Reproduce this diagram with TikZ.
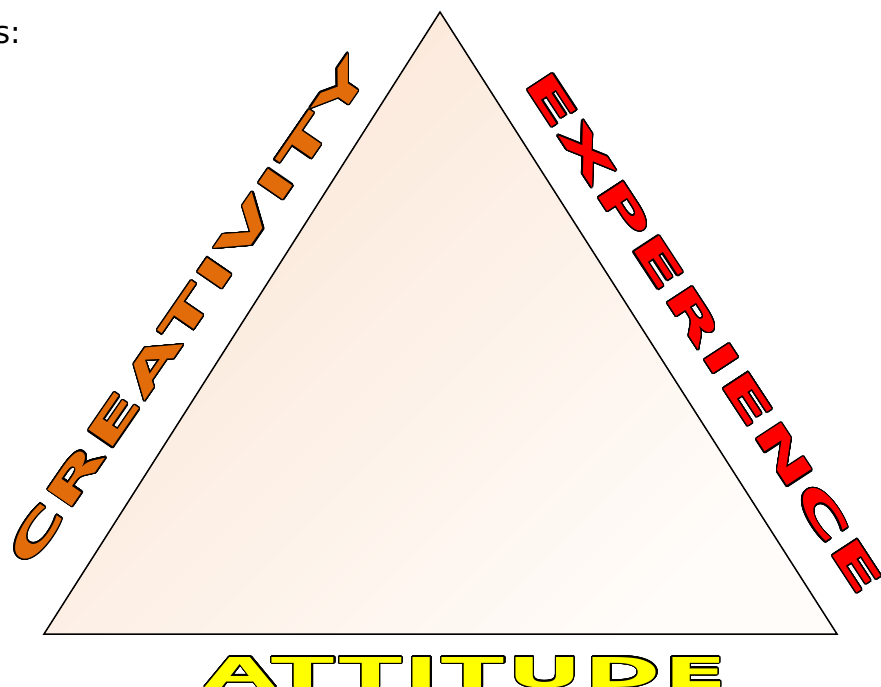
\documentclass[tikz,border=0pt]{standalone}
\usepackage{fontspec}
\setmainfont{DejaVu Sans}
\newfontfamily\widefont[FakeStretch=2,LetterSpace=6]{DejaVu Sans Bold}
\usepackage[copies]{contour}
\contourlength{1.3pt}
\contournumber{32}
\definecolor{peach}{RGB}{251,230,214}
\definecolor{paleend}{RGB}{255,252,249}
\definecolor{wordorange}{RGB}{227,108,10}
\definecolor{wordred}{RGB}{255,0,0}
\definecolor{wordyellow}{RGB}{255,255,0}
\tikzset{
  edge/.style={line width=1.5pt, draw=black},
  wordart/.style={inner sep=0pt, outer sep=0pt},
}
\newcommand{\wordart}[4]{\resizebox{#1}{#2}{\widefont\fontsize{42}{42}\selectfont\contour{black}{\textcolor{#3}{#4}}}}
\begin{document}
\begin{tikzpicture}[x=1pt,y=-1pt]
\useasboundingbox (0,0) rectangle (881,686);
\coordinate (apex) at (440,12);
\coordinate (bl) at (44,634);
\coordinate (br) at (837,634);
\shade[top color=peach, bottom color=paleend, shading angle=45] (apex) -- (bl) -- (br) -- cycle;
\draw[edge] (apex) -- (bl) -- (br) -- cycle;
\node[anchor=base east, inner sep=0pt, font=\fontsize{31}{31}\selectfont] (lead) at (21,43) {s:};
\node[wordart, rotate=55.5] (creativity) at (189,312) {\wordart{605pt}{30pt}{wordorange}{CREATIVITY}};
\node[wordart, rotate=-56.8] (experience) at (704,333) {\wordart{615pt}{30pt}{wordred}{EXPERIENCE}};
\node[wordart] (attitude) at (466,673) {\wordart{522pt}{30pt}{wordyellow}{ATTITUDE}};
\end{tikzpicture}
\end{document}
